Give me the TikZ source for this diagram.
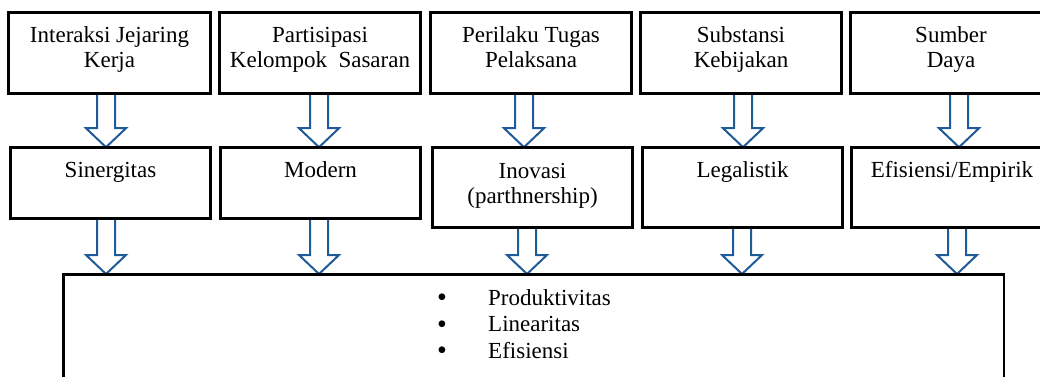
\documentclass[tikz,border=0pt]{standalone}
\usepackage{fontspec}
\setmainfont{Liberation Serif}
\usetikzlibrary{calc}
\definecolor{arrowblue}{HTML}{1F5B98}
\tikzset{
  box/.style={draw=black, line width=1.6pt, rectangle, inner sep=0pt},
  txt/.style={align=center, inner sep=0pt, font=\fontsize{23}{25}\selectfont},
  fat/.style={draw=arrowblue, line width=2pt, fill=white, line join=miter},
}
\newcommand\fatarrow[3]{%
  \draw[fat] let \p1=(#1.south), \p2=(#2.north) in
    ({#3pt-9pt},\y1) -- ({#3pt-9pt},\y2+19pt) -- ({#3pt-20pt},\y2+19pt) -- (#3pt,\y2)
    -- ({#3pt+20pt},\y2+19pt) -- ({#3pt+9pt},\y2+19pt) -- ({#3pt+9pt},\y1);}
\newcommand\bul{\makebox[51pt][l]{\smash{\raisebox{-1.5pt}{\fontsize{28}{25}\selectfont\textbullet}}}}
\begin{document}
\begin{tikzpicture}[x=1pt,y=-1pt]
\useasboundingbox (0,0) rectangle (1040,376);
% top row
\node[box, minimum width=201pt, minimum height=80pt] (t1) at (109.5,53) {};
\node[box, minimum width=200pt, minimum height=80pt] (t2) at (320,53) {};
\node[box, minimum width=200pt, minimum height=80pt] (t3) at (531,53) {};
\node[box, minimum width=200pt, minimum height=80pt] (t4) at (741,53) {};
\node[box, minimum width=200pt, minimum height=80pt] (t5) at (951,53) {};
% second row
\node[box, minimum width=199pt, minimum height=70pt] (s1) at (110.5,183) {};
\node[box, minimum width=199pt, minimum height=70pt] (s2) at (320.5,183) {};
\node[box, minimum width=199pt, minimum height=79pt] (s3) at (532.5,187.5) {};
\node[box, minimum width=199pt, minimum height=79pt] (s4) at (742.5,187.5) {};
\node[box, minimum width=200pt, minimum height=79pt] (s5) at (952,187.5) {};
% bottom box
\node[box, minimum width=940pt, minimum height=110pt, anchor=north west] (bot) at (63,274) {};
% arrows
\fatarrow{t1}{s1}{106}
\fatarrow{t2}{s2}{319}
\fatarrow{t3}{s3}{524}
\fatarrow{t4}{s4}{743}
\fatarrow{t5}{s5}{959}
\fatarrow{s1}{bot}{106}
\fatarrow{s2}{bot}{319}
\fatarrow{s3}{bot}{527}
\fatarrow{s4}{bot}{742}
\fatarrow{s5}{bot}{957}
% redraw borders on top
\foreach \n in {t1,t2,t3,t4,t5,s1,s2,s3,s4,s5,bot}{\draw[line width=1.6pt] (\n.south west) rectangle (\n.north east);}
% texts (base anchor = baseline of last line)
\node[txt, anchor=base] (t1l) at ([yshift=-55pt]t1.north) {Interaksi Jejaring\\Kerja};
\node[txt, anchor=base] (t2l) at ([yshift=-55pt]t2.north) {Partisipasi\\Kelompok\ \ Sasaran};
\node[txt, anchor=base] (t3l) at ([yshift=-55pt]t3.north) {Perilaku Tugas\\Pelaksana};
\node[txt, anchor=base] (t4l) at ([yshift=-55pt]t4.north) {Substansi\\Kebijakan};
\node[txt, anchor=base] (t5l) at ([yshift=-55pt]t5.north) {Sumber\\Daya};
\node[txt, anchor=base] (s1l) at ([yshift=-30pt]s1.north) {Sinergitas};
\node[txt, anchor=base] (s2l) at ([yshift=-30pt]s2.north) {Modern};
\node[txt, anchor=base] (s3l) at ([yshift=-56pt]s3.north) {Inovasi\\(parthnership)};
\node[txt, anchor=base] (s4l) at ([yshift=-30pt]s4.north) {Legalistik};
\node[txt, anchor=base] (s5l) at ([yshift=-30pt]s5.north) {Efisiensi/Empirik};
\node[txt, align=left, anchor=base west, font=\fontsize{23}{26.5}\selectfont] (list) at (437,358)
  {\bul Produktivitas\\\bul Linearitas\\\bul Efisiensi};
\end{tikzpicture}
\end{document}
